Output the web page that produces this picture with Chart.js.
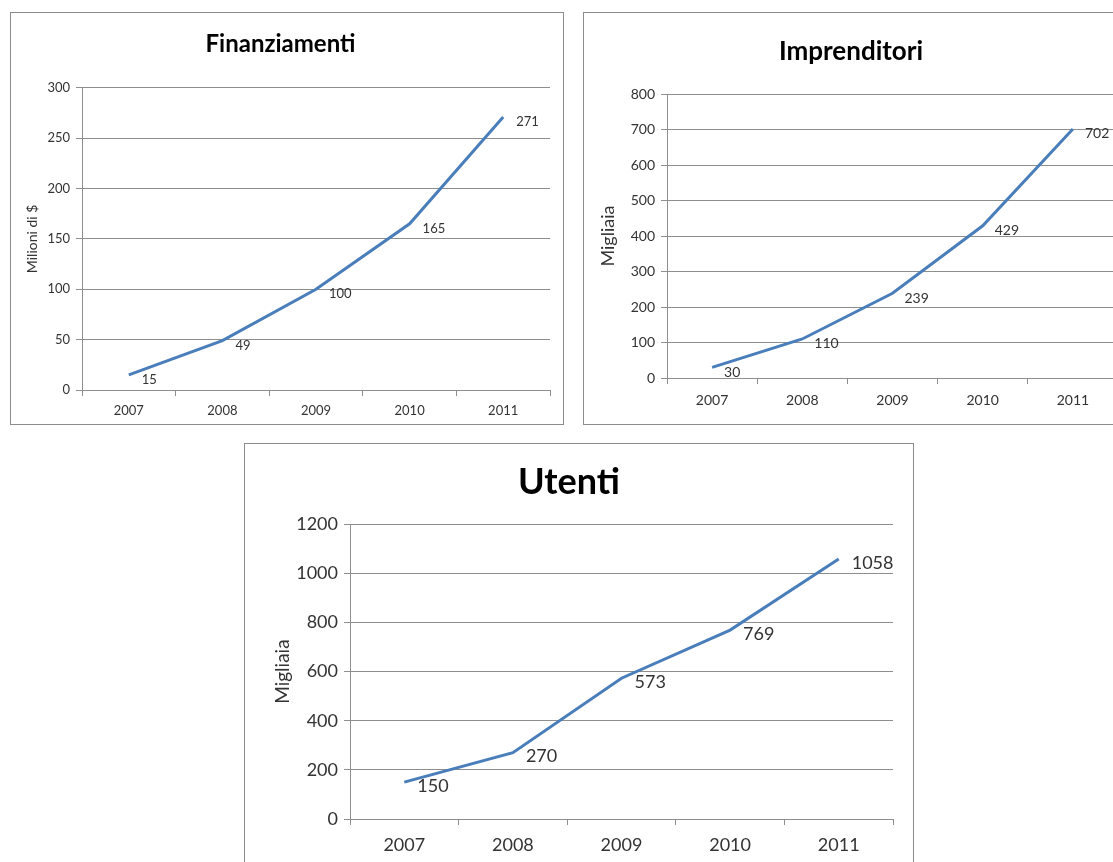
<!DOCTYPE html>
<html>
<head>
<meta charset="utf-8">
<script src="https://cdn.jsdelivr.net/npm/chart.js@4.4.1/dist/chart.umd.min.js"></script>
<style>
  html, body { margin: 0; padding: 0; background: #fff; overflow: hidden; }
  body { width: 1113px; height: 862px; position: relative; }
  .box { position: absolute; border: 1px solid #8c8c8c; background: #fff; }
  .box canvas { display: block; }
</style>
</head>
<body>
<div class="box" style="left:10px;top:12px;width:552px;height:411px"><canvas id="finChart" width="552" height="411"></canvas></div>
<div class="box" style="left:583px;top:12px;width:540px;height:411px"><canvas id="impChart" width="540" height="411"></canvas></div>
<div class="box" style="left:244px;top:443px;width:668px;height:430px"><canvas id="utChart" width="668" height="430"></canvas></div>

<script>
// data
const years = ['2007', '2008', '2009', '2010', '2011'];
const finanziamenti = [15, 49, 100, 165, 271];
const imprenditori = [30, 110, 239, 429, 702];
const utenti = [150, 270, 573, 769, 1058];

const lineColor = '#4a7ebb';
const gridColor = '#8e8e8e';
const textColor = '#333333';
const fontFamily = 'Lato, "Open Sans", sans-serif';

// draws the value next to every point, like the excel data labels
const valueLabels = {
  id: 'valueLabels',
  afterDatasetsDraw(chart, args, opts) {
    const ctx = chart.ctx;
    ctx.save();
    ctx.font = opts.size + 'px ' + fontFamily;
    ctx.fillStyle = textColor;
    ctx.textAlign = 'left';
    ctx.textBaseline = 'middle';
    chart.data.datasets.forEach((ds, i) => {
      chart.getDatasetMeta(i).data.forEach((pt, j) => {
        ctx.fillText(ds.data[j], pt.x + opts.dx, pt.y + opts.dy);
      });
    });
    ctx.restore();
  }
};

function makeChart(id, title, yTitle, values, yMax, step, g) {
  const ctx = document.getElementById(id).getContext('2d');
  return new Chart(ctx, {
    type: 'line',
    data: {
      labels: years,
      datasets: [{
        data: values,
        borderColor: lineColor,
        borderWidth: 3,
        pointRadius: 0,
        tension: 0,
        fill: false
      }]
    },
    plugins: [valueLabels],
    options: {
      responsive: false,
      animation: false,
      layout: { padding: { left: 0, right: g.padRight, top: 0, bottom: 0 } },
      plugins: {
        legend: { display: false },
        tooltip: { enabled: false },
        title: {
          display: true,
          text: title,
          color: '#000',
          font: { family: fontFamily, size: g.titleSize, weight: 'bold' },
          padding: { top: g.titleTop, bottom: g.titleBottom }
        },
        valueLabels: { size: g.labelSize, dx: g.dx, dy: g.dy }
      },
      scales: {
        x: {
          offset: true,
          afterFit: (s) => { s.height = g.xHeight; },
          grid: { offset: true, drawOnChartArea: false, drawTicks: true, tickLength: 6, color: gridColor },
          border: { display: true, color: gridColor, width: 1 },
          ticks: { color: textColor, padding: g.xPad, font: { family: fontFamily, size: g.tickSize } }
        },
        y: {
          min: 0,
          max: yMax,
          afterFit: (s) => { s.width = g.yWidth; },
          grid: { color: gridColor, tickLength: 6 },
          border: { display: true, color: gridColor, width: 1 },
          ticks: {
            stepSize: step,
            color: textColor,
            padding: 6,
            font: { family: fontFamily, size: g.tickSize },
            callback: (v) => String(v)
          },
          title: {
            display: true,
            text: yTitle,
            color: textColor,
            font: { family: fontFamily, size: g.yTitleSize },
            padding: { top: g.yTitlePad, bottom: 0 }
          }
        }
      }
    }
  });
}

makeChart('finChart', 'Finanziamenti', 'Milioni di $', finanziamenti, 300, 50, {
  padRight: 13, titleSize: 24, titleTop: 17, titleBottom: 29,
  xHeight: 34, xPad: 7, yWidth: 71, tickSize: 13, yTitleSize: 14, yTitlePad: 13,
  labelSize: 13, dx: 13, dy: 5
});

makeChart('impChart', 'Imprenditori', 'Migliaia', imprenditori, 800, 100, {
  padRight: 6, titleSize: 26, titleTop: 23, titleBottom: 27,
  xHeight: 46, xPad: 8, yWidth: 83, tickSize: 14, yTitleSize: 18, yTitlePad: 13,
  labelSize: 14, dx: 12, dy: 5
});

makeChart('utChart', 'Utenti', 'Migliaia', utenti, 1200, 200, {
  padRight: 20, titleSize: 36, titleTop: 17, titleBottom: 20,
  xHeight: 55, xPad: 9, yWidth: 105, tickSize: 18, yTitleSize: 19, yTitlePad: 26,
  labelSize: 18, dx: 13, dy: 4
});
</script>
</body>
</html>
